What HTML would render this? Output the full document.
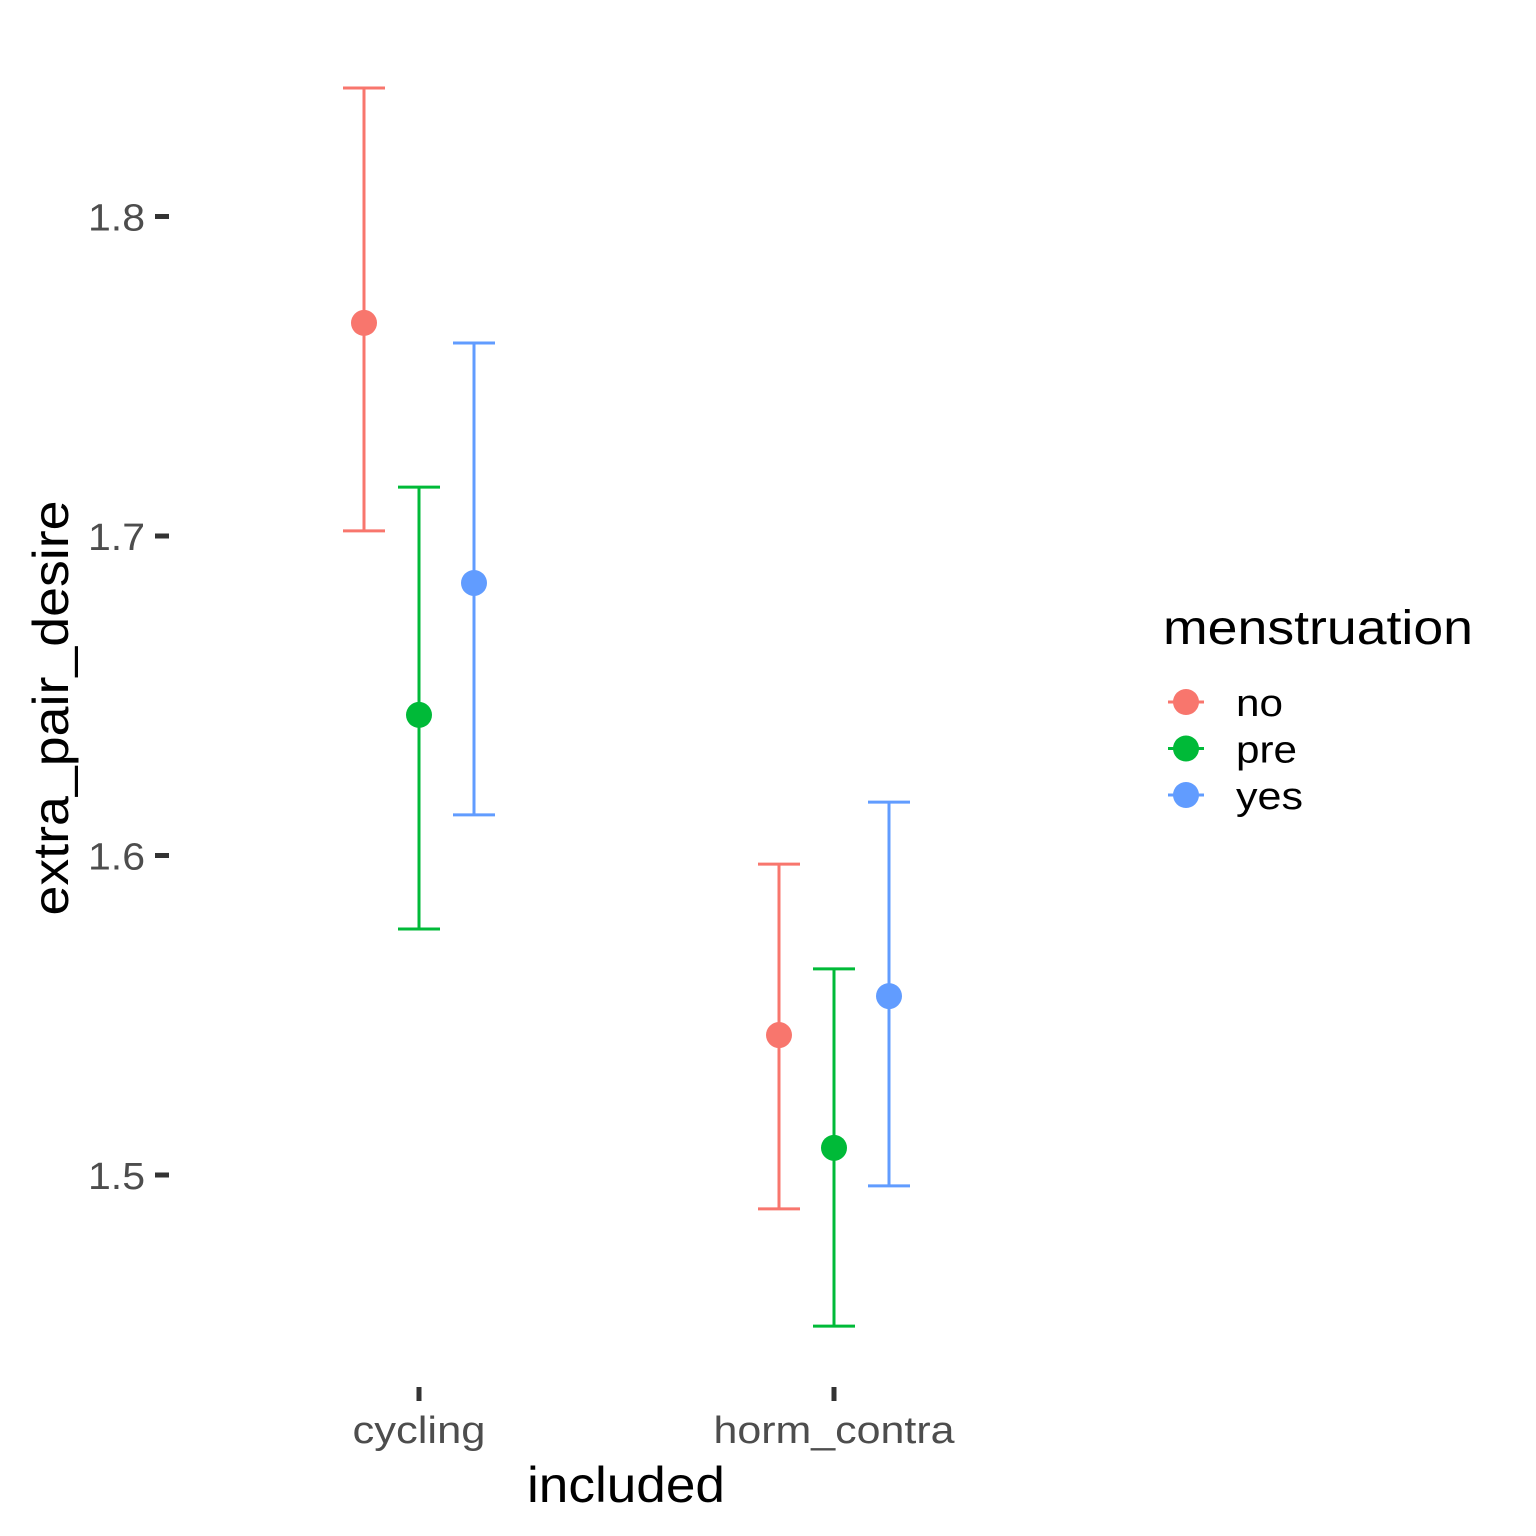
<!DOCTYPE html>
<html><head><meta charset="utf-8"><style>
html,body{margin:0;padding:0;background:#fff;}
svg{display:block;font-family:"Liberation Sans",Arial,sans-serif;}
</style></head><body>
<svg id="chart" width="1536" height="1536" viewBox="0 0 1536 1536">
<g id="axes"></g>
<g id="marks"></g>
<g id="legend"></g>
<text x="626" y="1502" font-size="50" text-anchor="middle" textLength="198" lengthAdjust="spacingAndGlyphs" fill="#000">included</text>
<text transform="translate(68,708) rotate(-90)" font-size="50" text-anchor="middle" textLength="415" lengthAdjust="spacingAndGlyphs" fill="#000">extra_pair_desire</text>
</svg>
<script>
const categories = ["cycling", "horm_contra"];
const groups = ["no", "pre", "yes"];
const colors = ["#F8766D", "#00BA38", "#619CFF"];
const means = [[1.7667, 1.644, 1.6853], [1.5438, 1.5085, 1.556]];
const upper = [[1.8402, 1.7153, 1.7604], [1.5973, 1.5645, 1.6167]];
const lower = [[1.7016, 1.577, 1.6127], [1.4894, 1.4527, 1.4966]];
const yTicks = [1.5, 1.6, 1.7, 1.8];
const yTickLabels = ["1.5", "1.6", "1.7", "1.8"];

const NS = "http://www.w3.org/2000/svg";
function yScale(v){ return 1175 - (v - 1.5) * 3195; }
function xScale(i){ return 419 + i * 415; }
const dodge = 55;
function mk(tag, attrs, parent){
  const e = document.createElementNS(NS, tag);
  for (const k in attrs) e.setAttribute(k, attrs[k]);
  parent.appendChild(e);
  return e;
}
function fit(el, w){ el.setAttribute("textLength", w); el.setAttribute("lengthAdjust", "spacingAndGlyphs"); }
const axes = document.getElementById("axes");
yTicks.forEach((t, i) => {
  const y = yScale(t);
  const tk = mk("line", {x1:155, x2:169, y1:y, y2:y, stroke:"#333", "stroke-width":5}, axes);
  
  
  const lb = mk("text", {x:145, y:y+14, "font-size":38, "text-anchor":"end", fill:"#4d4d4d"}, axes);
  lb.textContent = yTickLabels[i];
  fit(lb, 57);
  
  
});
const xLabW = [133, 241];
categories.forEach((c, i) => {
  const x = xScale(i);
  const tk = mk("line", {x1:x, x2:x, y1:1387, y2:1401, stroke:"#333", "stroke-width":5}, axes);
  
  
  const lb = mk("text", {x:x, y:1443, "font-size":38, "text-anchor":"middle", fill:"#4d4d4d"}, axes);
  lb.textContent = c;
  fit(lb, xLabW[i]);
  
  
});
const marks = document.getElementById("marks");
categories.forEach((c, i) => {
  groups.forEach((g, j) => {
    const x = xScale(i) + (j - 1) * dodge;
    const col = colors[j];
    const yt = yScale(upper[i][j]), yb = yScale(lower[i][j]), ym = yScale(means[i][j]);
    const grp = mk("g", {}, marks);
    
    
    mk("line", {x1:x, x2:x, y1:yt, y2:yb, stroke:col, "stroke-width":3}, grp);
    mk("line", {x1:x-21, x2:x+21, y1:yt, y2:yt, stroke:col, "stroke-width":3}, grp);
    mk("line", {x1:x-21, x2:x+21, y1:yb, y2:yb, stroke:col, "stroke-width":3}, grp);
    const p = mk("circle", {cx:x, cy:ym, r:13, fill:col}, marks);
    
    
  });
});
const legend = document.getElementById("legend");
const lt = mk("text", {x:1163, y:644, "font-size":48, fill:"#000"}, legend);
lt.textContent = "menstruation";
fit(lt, 310);


const legW = [47, 61, 67];
groups.forEach((g, j) => {
  const y = 702 + j * 46.5;
  const e = mk("g", {}, legend);
  
  
  mk("line", {x1:1168, x2:1204, y1:y, y2:y, stroke:colors[j], "stroke-width":3}, e);
  mk("circle", {cx:1186, cy:y, r:13, fill:colors[j]}, e);
  const t = mk("text", {x:1236, y:y+14, "font-size":38, fill:"#000"}, e);
  t.textContent = g;
  fit(t, legW[j]);
});
</script>
</body></html>
